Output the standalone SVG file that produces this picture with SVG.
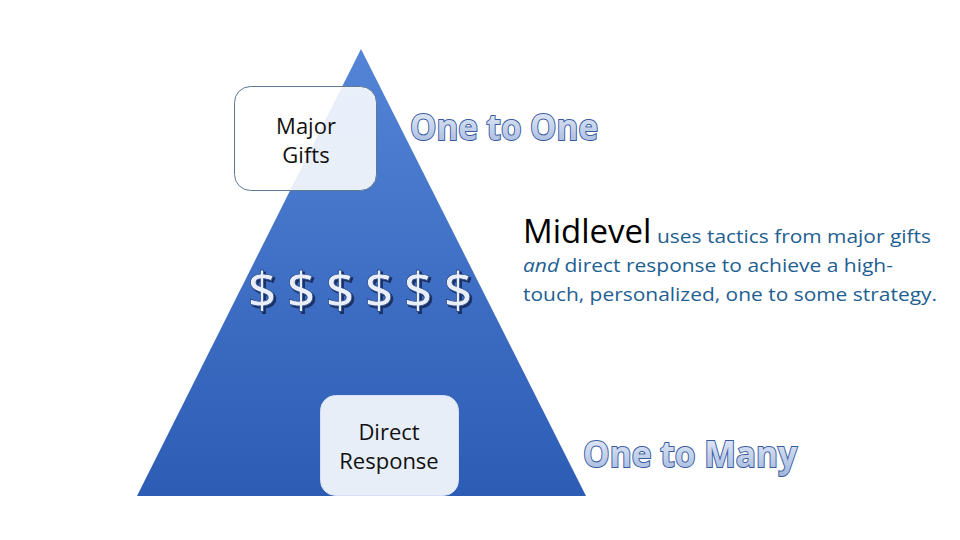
<svg xmlns="http://www.w3.org/2000/svg" width="960" height="540" viewBox="0 0 960 540">
<defs>
<linearGradient id="tri" x1="0" y1="0" x2="0" y2="1">
<stop offset="0" stop-color="#5384d6"/>
<stop offset="1" stop-color="#2c5cb4"/>
</linearGradient>
<linearGradient id="wa" x1="0" y1="0" x2="0" y2="1">
<stop offset="0" stop-color="#eef3fb"/>
<stop offset="1" stop-color="#9fb4dc"/>
</linearGradient>
<filter id="shadow" x="-20%" y="-20%" width="140%" height="140%">
<feDropShadow dx="2" dy="2" stdDeviation="0.6" flood-color="#142a55" flood-opacity="0.9"/>
</filter>
<style>
.box{font-family:"Open Sans","Liberation Sans",sans-serif;font-size:22px;fill:#111;text-anchor:middle}
.wa{font-family:"Open Sans","Liberation Sans",sans-serif;font-weight:bold;font-size:35px;fill:url(#wa);stroke:#3a5c9e;stroke-width:2;paint-order:stroke}
.dol{font-family:"Open Sans","Liberation Sans",sans-serif;font-size:50px;font-weight:600;fill:#e9eef8;stroke:#2a4f94;stroke-width:0.8;text-anchor:middle}
.body{font-family:"Open Sans","Liberation Sans",sans-serif;font-size:19px;fill:#1e6091}
</style>
</defs>
<g id="pyramid">
<polygon points="361,49 137,496 586,496" fill="url(#tri)"/>
</g>
<g id="major-gifts">
<rect x="234.5" y="86.5" width="142" height="104" rx="16" fill="#ffffff" fill-opacity="0.88" stroke="#5f7894" stroke-width="1"/>
<text class="box" x="306" y="134">Major</text>
<text class="box" x="306" y="163">Gifts</text>
</g>
<g id="direct-response">
<rect x="320.5" y="395.5" width="138" height="100" rx="15" fill="#e8eef8" stroke="#d6e0f2" stroke-width="1"/>
<text class="box" x="389" y="440">Direct</text>
<text class="box" x="389" y="469">Response</text>
</g>
<g id="dollars" filter="url(#shadow)">
<text class="dol" x="262" y="308">$</text>
<text class="dol" x="301" y="308">$</text>
<text class="dol" x="340" y="308">$</text>
<text class="dol" x="379" y="308">$</text>
<text class="dol" x="418" y="308">$</text>
<text class="dol" x="458" y="308">$</text>
</g>
<g id="one-to-one">
<text class="wa" x="410" y="140" textLength="188" lengthAdjust="spacingAndGlyphs">One to One</text>
</g>
<g id="one-to-many">
<text class="wa" x="583" y="467" textLength="214" lengthAdjust="spacingAndGlyphs">One to Many</text>
</g>
<g id="midlevel">
<text x="523" y="243" font-family="Open Sans, Liberation Sans, sans-serif" font-size="33" fill="#000">Midlevel</text>
<text class="body" x="657" y="243" textLength="274" lengthAdjust="spacingAndGlyphs">uses tactics from major gifts</text>
<text class="body" x="523" y="272" textLength="370" lengthAdjust="spacingAndGlyphs"><tspan font-style="italic">and</tspan> direct response to achieve a high-</text>
<text class="body" x="523" y="301" textLength="414" lengthAdjust="spacingAndGlyphs">touch, personalized, one to some strategy.</text>
</g>
</svg>
